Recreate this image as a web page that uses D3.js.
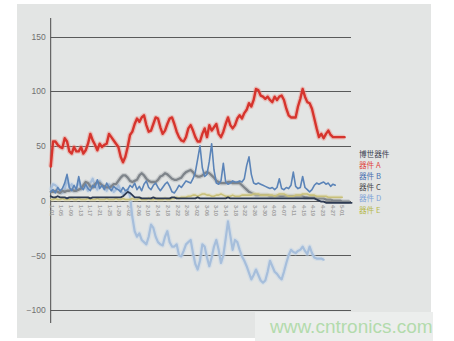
<!DOCTYPE html>
<html><head><meta charset="utf-8">
<script src="https://cdn.jsdelivr.net/npm/d3@7"></script>
<style>body{margin:0;background:#fff;}svg{display:block;}</style>
</head><body><svg id="c" width="454" height="341"></svg>
<script>
const yTicks = [150, 100, 50, 0, -50, -100];
const xLabels = ["1-01","1-05","1-09","1-13","1-17","1-21","1-25","1-29","2-02","2-06","2-10","2-14","2-18","2-22","2-26","3-02","3-06","3-10","3-14","3-18","3-22","3-26","3-30","4-03","4-07","4-11","4-15","4-19","4-23","4-27","5-01"];
const legendNames = ["博世器件","器件  A","器件  B","器件  C","器件  D","器件  E"];
const legendColors = ["#3b4250","#e0453e","#4a70b0","#4a4a4a","#7fa3d8","#b5b84a"];

const seriesA = [31,54,54,51,49,48,57,54,45,43,49,45,45,49,43,46,52,61,55,51,46,52,49,51,52,61,58,55,52,49,40,35,40,49,60,63,70,75,72,76,78,69,63,64,70,76,75,67,61,64,70,75,76,70,63,58,55,54,58,66,69,64,58,54,54,61,66,58,69,64,67,70,61,58,63,70,76,69,66,69,75,78,75,80,83,89,86,92,102,101,96,95,93,95,92,90,95,92,95,96,92,84,78,76,76,76,86,93,102,95,90,89,84,75,66,58,61,57,61,64,60,58,58,58,58,58,58];
const seriesB = [8,10,7,12,9,11,16,24,12,9,14,10,22,12,10,15,11,9,14,12,19,11,14,10,16,12,9,13,11,10,8,12,9,10,14,12,16,10,13,9,15,18,12,10,14,16,12,9,12,15,17,13,8,7,10,14,12,15,18,17,16,20,26,38,50,30,22,24,36,52,28,16,15,18,34,17,15,16,18,17,17,18,17,20,32,40,24,16,15,16,15,14,13,12,11,12,10,12,20,11,10,12,11,14,26,13,11,12,22,12,10,8,10,14,16,15,16,17,15,16,13,15,14];
const seriesC = [8,8,9,8,7,9,8,9,9,10,9,9,10,11,14,17,16,13,12,15,17,16,14,13,12,12,13,15,15,18,21,23,23,21,18,17,18,19,23,25,23,20,18,17,17,17,19,22,23,25,24,22,20,19,19,20,21,24,26,27,28,26,23,22,22,23,25,26,25,23,21,18,17,16,16,16,17,17,16,16,16,16,14,12,10,8,7,6,5,5,5,5,5,5,4,4,4,4,4,4,4,4,4,4,4,4,4,4,4,3,3,3,3,3,2,2,2,2,1,1,1,0,0,0,0,-1,-1,-1,-1];
const seriesD = [10,15,14,12,8,7,10,20,12,15,9,11,18,10,14,12,9,16,20,13,10,18,14,11,9,15,12,8,10,14,9,6,8,10,4,-15,-28,-33,-30,-36,-38,-40,-33,-22,-25,-33,-38,-40,-41,-33,-28,-38,-42,-42,-40,-50,-51,-46,-40,-38,-36,-48,-58,-63,-55,-40,-42,-52,-60,-52,-42,-36,-45,-57,-50,-35,-19,-32,-45,-36,-38,-45,-51,-55,-60,-66,-72,-68,-63,-68,-73,-75,-73,-65,-55,-60,-65,-67,-70,-72,-65,-57,-50,-45,-47,-48,-46,-45,-42,-46,-49,-42,-48,-52,-53,-53,-53,-54];
const seriesE = [1,1,2,1,1,2,1,1,1,2,1,1,2,1,1,1,2,1,1,1,2,1,1,1,2,1,1,1,2,1,1,2,1,1,1,2,1,1,2,1,1,1,2,1,1,2,1,1,1,2,1,1,2,2,3,2,3,3,3,4,4,5,5,4,5,6,6,5,5,4,4,5,5,6,5,4,4,4,5,4,4,4,5,5,5,5,5,6,6,6,5,5,5,5,5,5,4,5,6,6,6,5,4,4,4,5,5,5,6,6,6,5,5,5,4,4,4,4,4,3,3,3,3,3,3,3];
const seriesBosch = [4,3,3,4,3,3,3,2,3,3,3,3,3,3,3,3,3,2,3,3,3,3,3,3,3,3,3,3,3,3,3,4,6,8,7,5,3,3,3,2,2,2,2,2,3,2,2,2,2,2,2,2,3,3,2,2,2,2,2,2,2,2,2,3,2,2,2,2,2,2,2,2,2,2,2,2,3,2,2,2,2,2,2,2,2,2,2,2,2,2,2,2,2,2,2,2,2,2,2,2,2,2,2,2,2,2,2,2,2,2,2,2,2,2,1,0,-1,-1,-2,-2,-2,-2,-2,-2,-2,-2,-2,-2,-2,-2];

const svg = d3.select("#c");
svg.append("rect").attr("x",17).attr("y",4).attr("width",414).attr("height",334).attr("fill","#e3e5e4");
svg.append("rect").attr("x",255).attr("y",312).attr("width",178).attr("height",29).attr("fill","#eceeed");

const x = d3.scaleLinear().domain([0,128]).range([50.7,349.3]);
const y = d3.scaleLinear().domain([-100,150]).range([310,36.5]);

svg.append("g").selectAll("line").data(yTicks).join("line")
  .attr("x1",50.7).attr("x2",351).attr("y1",d=>Math.round(y(d))+0.5).attr("y2",d=>Math.round(y(d))+0.5)
  .attr("stroke","#4a4a4a").attr("stroke-width",0.9);

const yAxis = svg.append("g").attr("transform","translate(50.7,0)")
  .call(d3.axisLeft(y).tickValues(yTicks).tickSize(0).tickPadding(5));
yAxis.select(".domain").remove();
yAxis.selectAll("text").attr("font-family","Liberation Sans, Arial, sans-serif").attr("font-size","8.5px").attr("fill","#707070");
svg.append("line").attr("x1",50.7).attr("x2",50.7).attr("y1",18).attr("y2",323).attr("stroke","#4a4a4a").attr("stroke-width",1);

const xc = d3.scalePoint().domain(xLabels).range([51,341.7]);
const xAxis = svg.append("g").attr("transform","translate(0,204)")
  .call(d3.axisBottom(xc).tickSize(0));
xAxis.select(".domain").remove();
xAxis.selectAll("text").attr("transform","rotate(90)").attr("text-anchor","start")
  .attr("x",1).attr("y",0).attr("dy","0.35em")
  .attr("font-family","Liberation Sans, Arial, sans-serif").attr("font-size","5.5px").attr("font-weight","bold").attr("fill","#a0a0a0");

const line = d3.line().defined(d=>d!=null).x((d,i)=>x(i)).y(d=>y(d));
function draw(data,color,w,halo){
  if(halo){
    svg.append("path").datum(data).attr("d",line).attr("fill","none").attr("stroke",halo).attr("stroke-width",w+2.5).attr("stroke-opacity",0.45).attr("stroke-linejoin","round");
  }
  svg.append("path").datum(data).attr("d",line).attr("fill","none").attr("stroke",color).attr("stroke-width",w).attr("stroke-linejoin","round").attr("stroke-linecap","round");
}
draw(seriesD,"#a6bedb",2.2,"#c4d4e8");
draw(seriesC,"#7e848a",2.3,"#a9adb1");
draw(seriesB,"#5b84b8",1.6,null);
draw(seriesE,"#c8c07a",1.6,"#ddd6a8");
draw(seriesBosch,"#2d3a52",1.8,null);
draw(seriesA,"#d6342d",2.4,"#ec8e86");

svg.append("g").selectAll("text").data(legendNames).join("text")
  .attr("x",359).attr("y",(d,i)=>156.5+i*11.2)
  .attr("font-family","Noto Sans CJK SC, sans-serif").attr("font-size","7.6px")
  .attr("fill",(d,i)=>legendColors[i]).text(d=>d);

svg.append("text").attr("x",270).attr("y",333).attr("font-family","Liberation Sans, Arial, sans-serif")
  .attr("font-size","19px").attr("fill","#b3dbac").text("www.cntronics.com");
</script></body></html>
